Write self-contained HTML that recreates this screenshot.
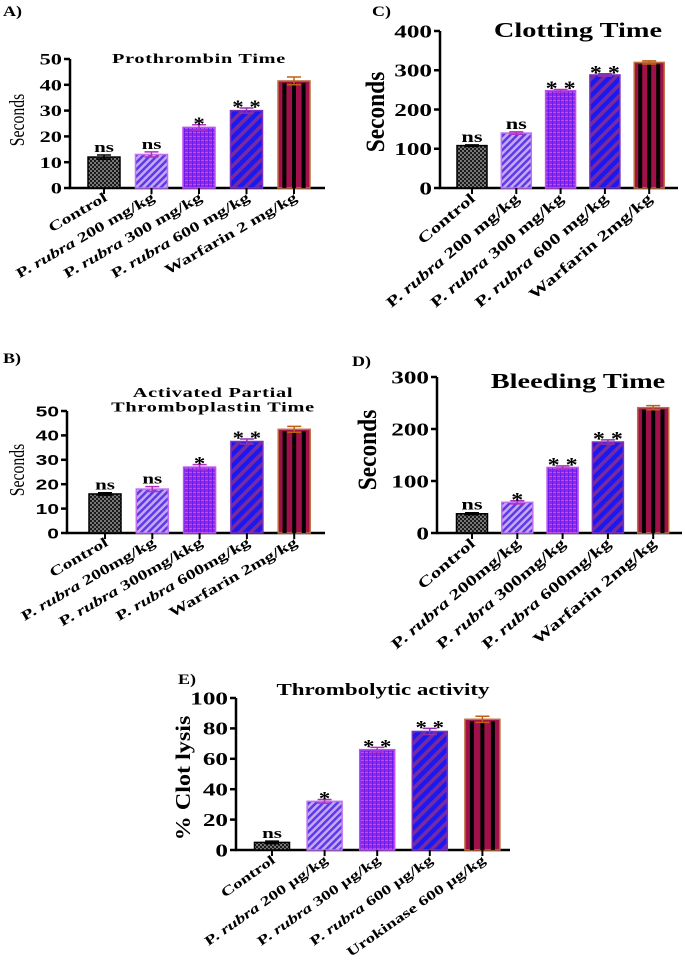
<!DOCTYPE html>
<html><head><meta charset="utf-8"><style>
html,body{margin:0;padding:0;background:#fff;}
svg{display:block;}
text{font-family:"Liberation Serif",serif;font-weight:bold;fill:#000;}
</style></head><body>
<svg id="fig" width="685" height="965" viewBox="0 0 685 965" xmlns="http://www.w3.org/2000/svg">
<defs>
<pattern id="pCtrl" width="4" height="4" patternUnits="userSpaceOnUse"><rect width="4" height="4" fill="#1a1a1a"/><rect width="2" height="2" fill="#777"/><rect x="2" y="2" width="2" height="2" fill="#777"/></pattern>
<pattern id="pP2" width="5" height="5" patternUnits="userSpaceOnUse" patternTransform="rotate(45)"><rect width="5" height="5" fill="#c9a6f5"/><rect width="2.5" height="5" fill="#5a3be8"/></pattern>
<pattern id="pP3" width="4" height="4" patternUnits="userSpaceOnUse"><rect width="4" height="4" fill="#8a2be2"/><rect width="4" height="1" fill="#c04de8"/><rect width="1" height="4" fill="#6a1cf0"/></pattern>
<pattern id="pP4" width="8" height="8" patternUnits="userSpaceOnUse" patternTransform="rotate(45)"><rect width="8" height="8" fill="#1a1af0"/><rect width="3.5" height="8" fill="#7a2aa0"/></pattern>
<pattern id="pW" width="10" height="10" patternUnits="userSpaceOnUse"><rect width="10" height="10" fill="#a0104a"/></pattern>
</defs>
<g id="root"></g>
</svg>
<script>
// Panel A: Prothrombin Time
const catsA = ["Control","P. rubra 200 mg/kg","P. rubra 300 mg/kg","P. rubra 600 mg/kg","Warfarin 2 mg/kg"];
const valsA = [12, 13, 23.5, 30, 41.5];
const errA = [0.8, 1, 1, 1, 1.5];
const sigA = ["ns","ns","*","* *",""];
const ticksA = [0,10,20,30,40,50];
// Panel B: aPTT
const catsB = ["Control","P. rubra 200mg/kg","P. rubra 300mg/kkg","P. rubra 600mg/kg","Warfarin 2mg/kg"];
const valsB = [16, 18, 27, 37.5, 42.5];
const errB = [0.5, 1, 1, 1, 1.2];
const sigB = ["ns","ns","*","* *",""];
const ticksB = [0,10,20,30,40,50];
// Panel C: Clotting Time
const catsC = ["Control","P. rubra 200 mg/kg","P. rubra 300 mg/kg","P. rubra 600 mg/kg","Warfarin 2mg/kg"];
const valsC = [108, 140, 248, 288, 320];
const errC = [2, 3, 3, 3, 4];
const sigC = ["ns","ns","* *","* *",""];
const ticksC = [0,100,200,300,400];
// Panel D: Bleeding Time
const catsD = ["Control","P. rubra 200mg/kg","P. rubra 300mg/kg","P. rubra 600mg/kg","Warfarin 2mg/kg"];
const valsD = [37, 59, 126, 175, 241];
const errD = [2, 3, 3, 4, 4];
const sigD = ["ns","*","* *","* *",""];
const ticksD = [0,100,200,300];
// Panel E: Thrombolytic activity
const catsE = ["Control","P. rubra 200 µg/kg","P. rubra 300 µg/kg","P. rubra 600 µg/kg","Urokinase 600 µg/kg"];
const valsE = [5, 32, 66, 78, 86];
const errE = [0.8, 1.2, 1.5, 2, 2];
const sigE = ["ns","*","* *","* *",""];
const ticksE = [0,20,40,60,80,100];

const NS="http://www.w3.org/2000/svg";
const root=document.getElementById('root');
function mk(tag,attrs,parent){const e=document.createElementNS(NS,tag);for(const k in attrs)e.setAttribute(k,attrs[k]);(parent||root).appendChild(e);return e;}
function tx(parent,x,y,rot,sx,attrs){const a=Object.assign({transform:`translate(${x},${y}) rotate(${rot}) scale(${sx},1)`,x:0,y:0},attrs);return mk('text',a,parent);}
const fills=["url(#pCtrl)","url(#pP2)","url(#pP3)","url(#pP4)","url(#pW)"];
const strokes=["#000","#c070f0","#c050f0","#7a30c0","#c07040"];
const errCol=["#000","#b030c0","#b030c0","#9030b0","#c06010"];
const SX=1.4;

function panel(p){
  const g=mk('g',{});
  
  
  const ymax=p.ticks[p.ticks.length-1];
  const ys=v=>p.y0-(v/ymax)*(p.y0-p.yTop);
  const xs=i=>p.c0+i*p.step;
  const ax=mk('line',{x1:p.ax,y1:p.yTop,x2:p.ax,y2:p.y0+1,stroke:'#000','stroke-width':2.5},g);
  
  const bx=mk('line',{x1:p.ax-1,y1:p.y0,x2:p.axEnd,y2:p.y0,stroke:'#000','stroke-width':2.5},g);
  
  p.ticks.forEach(t=>{
    mk('line',{x1:p.ax-6,y1:ys(t),x2:p.ax,y2:ys(t),stroke:'#000','stroke-width':2.5},g);
    const tl=tx(g,p.ax-8,ys(t)+p.tf*0.35,0,SX,{'text-anchor':'end','font-size':p.tf,style:p.tickStyle||''});
    tl.textContent=t;
    
  });
  p.vals.forEach((v,i)=>{
    const x=xs(i);
    const b=mk('rect',{x:x-p.bw/2,y:ys(v),width:p.bw,height:p.y0-ys(v),fill:fills[i],stroke:strokes[i],'stroke-width':1.5},g);
    
    if(i===4){
      for(let k=0;k<3;k++){
        const sx=x-p.bw/2+p.bw*(0.2+k*0.3);
        mk('rect',{x:sx-2,y:ys(v)+2,width:4,height:p.y0-ys(v)-2,fill:'#000'},g);
      }
    }
    const e=p.err[i];
    const eg=mk('path',{d:`M${x},${ys(v+e)}V${ys(v-e)}M${x-7},${ys(v+e)}H${x+7}M${x-7},${ys(v-e)}H${x+7}`,stroke:errCol[i],'stroke-width':1.5,fill:'none'},g);
    
    if(p.sig[i]){
      const star=p.sig[i].includes('*');
      const s=tx(g,x,ys(v+e)-3+(star?8:0),0,star?1.2:SX,{'text-anchor':'middle','font-size':star?p.sf+4:p.sf});
      s.textContent=p.sig[i];
      
    }
    mk('line',{x1:x,y1:p.y0,x2:x,y2:p.y0+6,stroke:'#000','stroke-width':2},g);
    const lb=tx(g,x+4,p.y0+12,-p.ang,SX,{'text-anchor':'end','font-size':p.lf});
    const c=p.cats[i];
    if(c.startsWith('P. rubra')){
      const t1=mk('tspan',{},lb);t1.textContent='P. ';
      const t2=mk('tspan',{'font-style':'italic'},lb);t2.textContent='rubra';
      const t3=mk('tspan',{},lb);t3.textContent=c.slice(8);
    } else lb.textContent=c;
    
  });
  p.title.forEach((t,k)=>{
    const tt=tx(g,p.tx,p.ty+k*p.tfs*1.05,0,p.tsx||SX,{'text-anchor':'middle','font-size':p.tfs,style:p.titleStyle||''});
    tt.textContent=t;
    
  });
  const yl=tx(g,p.ylx,p.yly,-90,p.ylsx,{'text-anchor':'middle','font-size':p.ylf,style:p.ylStyle||''});
  yl.textContent=p.ylabel;
  
  const pl=tx(g,p.plx,p.ply,0,1.2,{'font-size':15});
  pl.textContent=p.letter;
  
}
panel({id:'prothrombin',cats:catsA,vals:valsA,err:errA,sig:sigA,ticks:ticksA,ax:70,axEnd:325,y0:188,yTop:59,c0:104,step:47.5,bw:32,
  tf:16,sf:15,lf:14,ang:30,title:["Prothrombin Time"],tx:199,ty:63,tfs:14,tsx:1.45,titleStyle:'letter-spacing:0.5px',
  ylabel:"Seconds",ylx:24,yly:120,ylf:21,ylsx:0.75,ylStyle:'font-weight:normal',plx:3,ply:16,letter:"A)"});
panel({id:'aptt',cats:catsB,vals:valsB,err:errB,sig:sigB,ticks:ticksB,ax:67,axEnd:325,y0:533,yTop:411,c0:105,step:47.3,bw:32,
  tf:15,sf:15,lf:14,ang:30,tickStyle:'font-family:"Liberation Sans",sans-serif;font-weight:900',
  title:["Activated Partial","Thromboplastin Time"],tx:213,ty:397,tfs:14,tsx:1.45,titleStyle:'letter-spacing:0.5px',
  ylabel:"Seconds",ylx:24,yly:470,ylf:21,ylsx:0.75,ylStyle:'font-weight:normal',plx:3,ply:363,letter:"B)"});
panel({id:'clotting',cats:catsC,vals:valsC,err:errC,sig:sigC,ticks:ticksC,ax:440,axEnd:678,y0:188,yTop:31,c0:472,step:44.3,bw:30,
  tf:18,sf:16,lf:15,ang:40,title:["Clotting Time"],tx:578,ty:37,tfs:21,tsx:1.35,
  ylabel:"Seconds",ylx:384,yly:112,ylf:26,ylsx:0.9,plx:372,ply:16,letter:"C)"});
panel({id:'bleeding',cats:catsD,vals:valsD,err:errD,sig:sigD,ticks:ticksD,ax:437,axEnd:682,y0:533,yTop:377,c0:472,step:45.3,bw:31,
  tf:18,sf:16,lf:15,ang:40,title:["Bleeding Time"],tx:578,ty:388,tfs:21,tsx:1.35,
  ylabel:"Seconds",ylx:376,yly:450,ylf:26,ylsx:0.9,plx:352,ply:366,letter:"D)"});
panel({id:'thrombolytic',cats:catsE,vals:valsE,err:errE,sig:sigE,ticks:ticksE,ax:236,axEnd:510,y0:850,yTop:698,c0:272,step:52.6,bw:35,
  tf:18,sf:15,lf:13.5,ang:35,title:["Thrombolytic activity"],tx:383,ty:695,tfs:17,tsx:1.35,
  ylabel:"% Clot lysis",ylx:190,yly:778,ylf:21,ylsx:1.15,plx:178,ply:684,letter:"E)"});
</script>
</body></html>
